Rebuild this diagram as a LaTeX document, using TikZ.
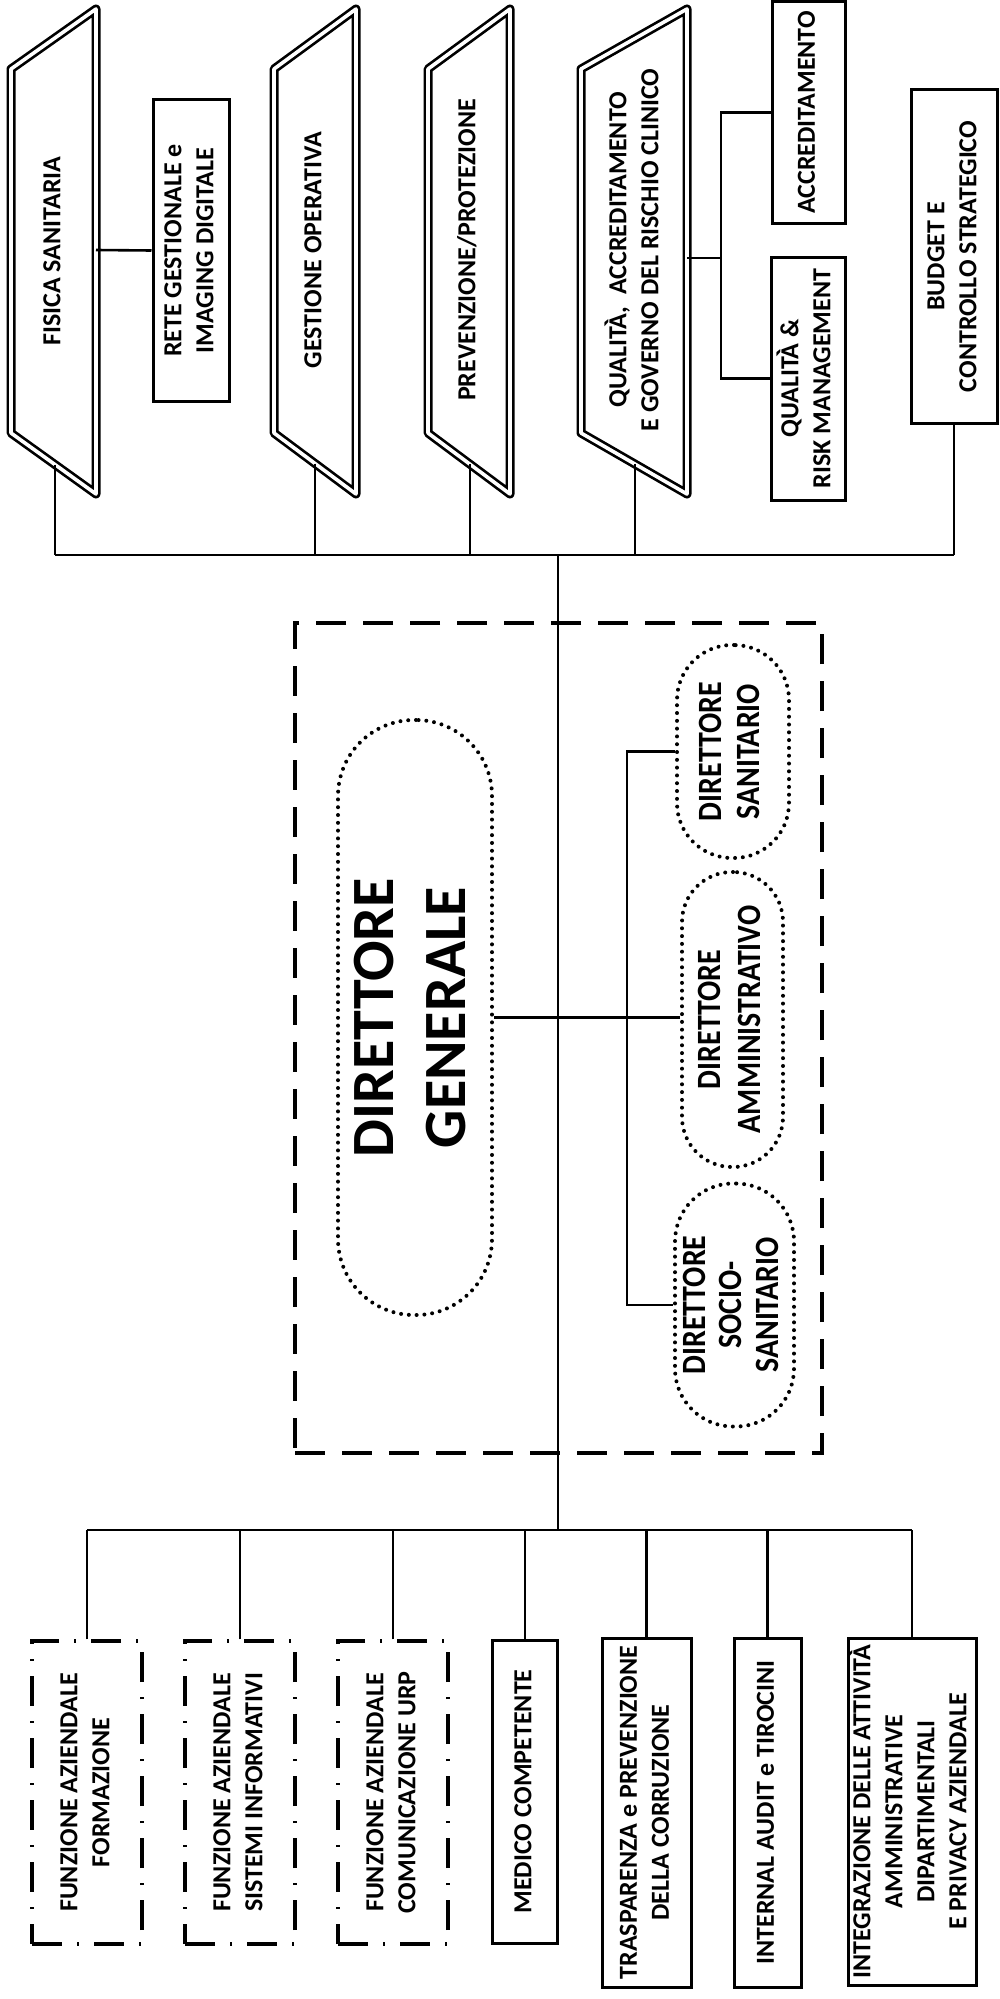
\documentclass[tikz,border=0pt]{standalone}
\usepackage{fontspec}
\setmainfont{Carlito}
\usepackage{graphicx}
\usetikzlibrary{calc}
\newcommand\rottext[1]{\rotatebox{90}{\begin{tabular}{@{}c@{}}#1\end{tabular}}}
\newcommand\rottextc[2]{\rotatebox{90}{\scalebox{#1}[1]{\begin{tabular}{@{}c@{}}#2\end{tabular}}}}
\begin{document}
\begin{tikzpicture}[x=1pt,y=-1pt,
  lbl/.style={font=\fontsize{26}{32}\selectfont\bfseries, inner sep=0pt},
  box/.style={draw, line width=3pt, inner sep=0pt, font=\fontsize{26}{32}\selectfont\bfseries},
  ddbox/.style={box, line width=3.3pt, dash pattern=on 30pt off 15pt on 2pt off 15pt},
  dirbox/.style={draw, line width=3.2pt, dash pattern=on 30pt off 17pt, inner sep=0pt},
  dotbox/.style={draw, line width=4pt, line cap=round, dash pattern=on 0pt off 7.8pt, rounded corners=#1, inner sep=0pt},
  conn/.style={line width=2.6pt},
  trap/.style={draw, double=white, line width=2.7pt, double distance=3.6pt, line join=round}
]
\useasboundingbox (0,0) rectangle (999,1999);

% ---------- top trapezoids ----------
\draw[trap] (11,69) -- (96,9) -- (96,494) -- (11,433) -- cycle;
\draw[trap] (274,69) -- (356,9) -- (356,494) -- (274,433) -- cycle;
\draw[trap] (428,69) -- (510,9) -- (510,494) -- (428,433) -- cycle;
\draw[trap] (581,69) -- (687,9) -- (687,494) -- (581,433) -- cycle;

\node[lbl] (fis) at (54,251) {\rottext{FISICA SANITARIA}};
\node[lbl] (ges) at (315,250) {\rottext{GESTIONE OPERATIVA}};
\node[lbl] (pre) at (469,250) {\rottext{PREVENZIONE/PROTEZIONE}};
\node[lbl] (qua) at (636,250) {\rottext{QUALITÀ,\ \ ACCREDITAMENTO\\E GOVERNO DEL RISCHIO CLINICO}};

\coordinate (fis-b) at (55,464.6);
\coordinate (ges-b) at (315,463.5);
\coordinate (pre-b) at (470,464.2);
\coordinate (qua-b) at (635,464.1);
\coordinate (fis-r) at (96,250);
\coordinate (qua-r) at (687,258);
\coordinate (qbx) at (721,258);

% ---------- top boxes ----------
\node[box, minimum width=76pt, minimum height=301pt] (rete) at (191,250.5) {\rottext{RETE GESTIONALE e\\IMAGING DIGITALE}};
\node[box, minimum width=73pt, minimum height=221pt] (acc) at (808.5,112.5) {\rottext{ACCREDITAMENTO}};
\node[box, minimum width=74pt, minimum height=243pt] (qr) at (808,378.5) {\rottext{QUALITÀ \&\\RISK MANAGEMENT}};
\node[box, minimum width=86pt, minimum height=333pt] (bud) at (954,256.5) {\rottext{BUDGET E\\CONTROLLO STRATEGICO}};

% ---------- directors ----------
\node[dirbox, minimum width=527pt, minimum height=830pt] (dir) at (558.5,1038) {};
\node[dotbox=76pt, minimum width=154pt, minimum height=595pt, font=\fontsize{60}{72}\selectfont\bfseries] (dg) at (415,1017.5) {\rottext{DIRETTORE\\GENERALE}};
\node[dotbox=55pt, minimum width=112pt, minimum height=213pt, font=\fontsize{34}{38}\selectfont\bfseries] (san) at (733,751.5) {\rottextc{0.88}{DIRETTORE\\SANITARIO}};
\node[dotbox=50pt, minimum width=101pt, minimum height=295pt, font=\fontsize{34}{40}\selectfont\bfseries] (amm) at (732.5,1019.5) {\rottextc{0.88}{DIRETTORE\\AMMINISTRATIVO}};
\node[dotbox=58pt, minimum width=119pt, minimum height=243pt, font=\fontsize{34}{36.5}\selectfont\bfseries] (soc) at (734.5,1305) {\rottextc{0.88}{DIRETTORE\\SOCIO-\\SANITARIO}};

% ---------- bottom boxes ----------
\node[ddbox, minimum width=110pt, minimum height=303pt] (form) at (87,1792.5) {\rottext{FUNZIONE AZIENDALE\\FORMAZIONE}};
\node[ddbox, minimum width=110pt, minimum height=303pt] (sis) at (240,1792.5) {\rottext{FUNZIONE AZIENDALE\\SISTEMI INFORMATIVI}};
\node[ddbox, minimum width=110pt, minimum height=303pt] (com) at (393,1792.5) {\rottext{FUNZIONE AZIENDALE\\COMUNICAZIONE URP}};
\node[box, minimum width=65pt, minimum height=303pt] (med) at (525,1791.5) {\rottext{MEDICO COMPETENTE}};
\node[box, minimum width=89pt, minimum height=349pt] (tra) at (646.5,1812.5) {\rottext{TRASPARENZA e PREVENZIONE\\DELLA CORRUZIONE}};
\node[box, minimum width=67pt, minimum height=349pt] (int) at (767.5,1812.5) {\rottext{INTERNAL AUDIT e TIROCINI}};
\node[box, minimum width=128pt, minimum height=347pt] (integ) at (912,1811.5) {\rottext{INTEGRAZIONE DELLE ATTIVITÀ\\AMMINISTRATIVE\\DIPARTIMENTALI\\E PRIVACY AZIENDALE}};

% ---------- connectors ----------
\coordinate (tb) at (558,555);
\coordinate (lb) at (558,1530);
\coordinate (dbx) at (627,0);

\draw[conn] (fis-r) -- (rete.west);
\draw[conn] (qua-r) -- (qbx);
\draw[conn] (acc.west) -| (qbx |- qr.west) -- (qr.west);

\foreach \n in {fis-b,ges-b,pre-b,qua-b} \draw[conn] (\n) -- (\n |- tb);
\draw[conn] (bud.south) -- (bud.south |- tb);
\draw[conn] (fis-b |- tb) -- (bud.south |- tb);
\draw[conn] (tb) -- (lb);

\draw[conn] (dg.east) -- (dg.east -| amm.west);
\draw[conn] (san.west) -| (dbx |- soc.west) -- (soc.west);

\foreach \n in {form,sis,com,med,tra,int,integ} \draw[conn] (\n.north) -- (\n.north |- lb);
\draw[conn] (form.north |- lb) -- (integ.north |- lb);
\end{tikzpicture}
\end{document}
